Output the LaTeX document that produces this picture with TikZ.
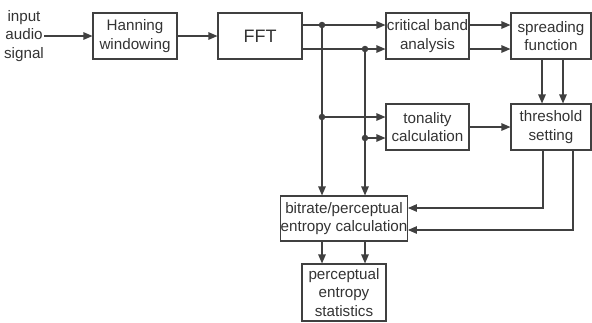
\documentclass[tikz,border=0pt]{standalone}
\usepackage{fontspec}
\setmainfont{Liberation Sans}
\usepackage{tikz}
\usetikzlibrary{arrows.meta, positioning}
\definecolor{linegray}{HTML}{404040}
\definecolor{textgray}{HTML}{333333}
\tikzstyle{block}    = [rectangle, draw=linegray, line width=1.1pt, align=center,
                        inner sep=0pt, text=textgray,
                        font=\fontsize{15.2}{18.8}\selectfont]
\tikzstyle{plain}    = [align=center, inner sep=0pt, text=textgray,
                        font=\fontsize{15.2}{18.8}\selectfont]
\tikzstyle{arrow}    = [draw=linegray, line width=1.1pt,
                        -{Triangle[length=9pt,width=7.5pt]}]
\tikzstyle{dot}      = [circle, fill=linegray, inner sep=0pt, minimum size=6.5pt]

\begin{document}
\begin{tikzpicture}[x=1pt, y=-1pt]
  \useasboundingbox (0,0) rectangle (592,322);
  \node[plain] (in) at (24,36) {input\\audio\\signal};
  \node[block, minimum width=84pt, minimum height=46pt] (hann) at (135,36) {Hanning\\windowing};
  \node[block, minimum width=84pt, minimum height=46pt,
        font=\fontsize{18}{20}\selectfont] (fft) at (260,36) {FFT};
  \node[block, minimum width=83pt, minimum height=46pt] (cba) at (427.5,36) {critical band\\analysis};
  \node[block, minimum width=80pt, minimum height=46pt] (spread) at (551,36) {spreading\\function};
  \node[block, minimum width=83pt, minimum height=46pt] (ton) at (427.5,127) {tonality\\calculation};
  \node[block, minimum width=80pt, minimum height=46pt] (thr) at (551,127) {threshold\\setting};
  \node[block, minimum width=126pt, minimum height=45pt] (bit) at (344,218.5) {bitrate/perceptual\\entropy calculation};
  \node[block, minimum width=84pt, minimum height=57pt] (pe) at (344,292.5) {perceptual\\entropy\\statistics};

  % branch points
  \coordinate (j1) at (322,25);
  \coordinate (j2) at (365,49);
  \coordinate (j3) at (322,117);
  \coordinate (j4) at (365,138);
  \coordinate (t1) at (543,208);
  \coordinate (t2) at (573,230);

  \draw[arrow] (in.east) -- (hann);
  \draw[arrow] (hann) -- (fft);
  \draw[arrow] (fft.east |- j1) -- (cba.west |- j1);
  \draw[arrow] (fft.east |- j2) -- (cba.west |- j2);
  \draw[arrow] (cba.east |- j1) -- (spread.west |- j1);
  \draw[arrow] (cba.east |- j2) -- (spread.west |- j2);
  \draw[arrow] (spread.south -| 542,0) -- (thr.north -| 542,0);
  \draw[arrow] (spread.south -| 563,0) -- (thr.north -| 563,0);
  \draw[arrow] (j3) -- (ton.west |- j3);
  \draw[arrow] (j4) -- (ton.west |- j4);
  \draw[arrow] (ton) -- (thr);
  \draw[arrow] (j1) -- (j1 |- bit.north);
  \draw[arrow] (j2) -- (j2 |- bit.north);
  \draw[arrow] (thr.south -| t1) |- (bit.east |- t1);
  \draw[arrow] (thr.south -| t2) |- (bit.east |- t2);
  \draw[arrow] (bit.south -| j1) -- (pe.north -| j1);
  \draw[arrow] (bit.south -| j2) -- (pe.north -| j2);

  \foreach \j in {j1,j2,j3,j4}
    \node[dot] at (\j) {};
\end{tikzpicture}
\end{document}
